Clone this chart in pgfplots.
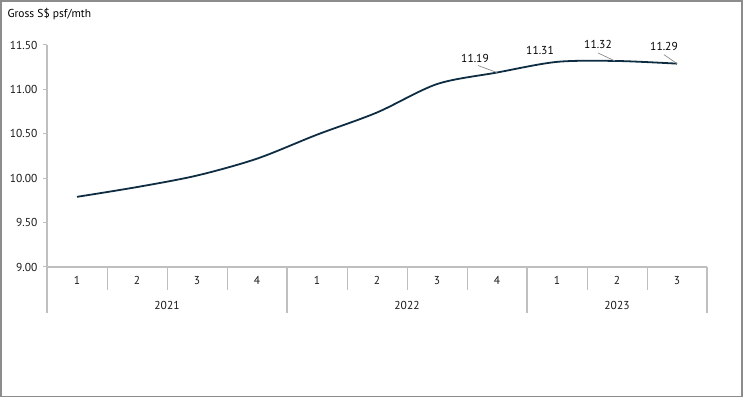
\documentclass[border=0pt]{standalone}
\usepackage{pgfplots}
\pgfplotsset{compat=1.18}
\usepackage{fontspec}
\setmainfont{PT Sans}
\definecolor{navy}{HTML}{0F2D42}
\definecolor{axgray}{HTML}{BFBFBF}
\definecolor{leadgray}{HTML}{8C8C8C}
\begin{document}
\begin{tikzpicture}
\useasboundingbox (0pt,0pt) rectangle (744pt,398pt);
\draw[leadgray, line width=1.2pt] (1pt,1.5pt) rectangle (742pt,397pt);
\node[anchor=west, font=\fontsize{11.5}{13}\selectfont] at (4pt,384pt) {Gross S\$ psf/mth};
\begin{axis}[
  at={(47pt,131pt)}, anchor=south west,
  scale only axis, width=660pt, height=222pt,
  xmin=-0.5, xmax=10.5, ymin=9, ymax=11.5,
  axis lines*=left,
  axis line style={axgray, line width=1.2pt},
  xtick={0,...,10},
  xticklabels={1,2,3,4,1,2,3,4,1,2,3},
  xtick style={draw=none},
  ytick={9,9.5,10,10.5,11,11.5},
  ytick style={axgray, line width=1pt},
  tick align=outside,
  major tick length=4pt,
  yticklabel style={/pgf/number format/fixed, /pgf/number format/fixed zerofill, /pgf/number format/precision=2, /pgf/number format/assume math mode=true, xshift=-2pt},
  ticklabel style={font=\fontsize{11.5}{13}\selectfont, text=black!90},
  xticklabel style={yshift=-2pt},
  clip=false,
]
\addplot[navy, line width=1.8pt, smooth, tension=0.5] coordinates {
  (0,9.79) (1,9.90) (2,10.03) (3,10.22) (4,10.49) (5,10.74) (6,11.06) (7,11.19) (8,11.31) (9,11.32) (10,11.29)
};
% category separators
\pgfplotsinvokeforeach{0.5,1.5,2.5,4.5,5.5,6.5,8.5,9.5}{
  \draw[axgray, line width=1pt] (axis cs:#1,9) -- ([yshift=-23pt]axis cs:#1,9);
}
\pgfplotsinvokeforeach{-0.5,3.5,7.5,10.5}{
  \draw[axgray, line width=1.2pt] (axis cs:#1,9) -- ([yshift=-46pt]axis cs:#1,9);
}
\node[font=\fontsize{11.5}{13}\selectfont, text=black!90] at ([yshift=-38pt]axis cs:1.5,9) {2021};
\node[font=\fontsize{11.5}{13}\selectfont, text=black!90] at ([yshift=-38pt]axis cs:5.5,9) {2022};
\node[font=\fontsize{11.5}{13}\selectfont, text=black!90] at ([yshift=-38pt]axis cs:9,9) {2023};
% data labels
\draw[leadgray, line width=0.7pt] ([xshift=-19pt,yshift=7pt]axis cs:7,11.19) -- (axis cs:7,11.19);
\node[font=\fontsize{11.5}{13}\selectfont] at ([xshift=-22pt,yshift=14pt]axis cs:7,11.19) {11.19};
\node[font=\fontsize{11.5}{13}\selectfont] at ([xshift=-17pt,yshift=11pt]axis cs:8,11.31) {11.31};
\draw[leadgray, line width=0.7pt] ([xshift=-19pt,yshift=8pt]axis cs:9,11.32) -- ([xshift=-2pt]axis cs:9,11.32);
\node[font=\fontsize{11.5}{13}\selectfont] at ([xshift=-19pt,yshift=17pt]axis cs:9,11.32) {11.32};
\draw[leadgray, line width=0.7pt] ([xshift=-13pt,yshift=9pt]axis cs:10,11.29) -- (axis cs:10,11.29);
\node[font=\fontsize{11.5}{13}\selectfont] at ([xshift=-13pt,yshift=17pt]axis cs:10,11.29) {11.29};
\end{axis}
\end{tikzpicture}
\end{document}
